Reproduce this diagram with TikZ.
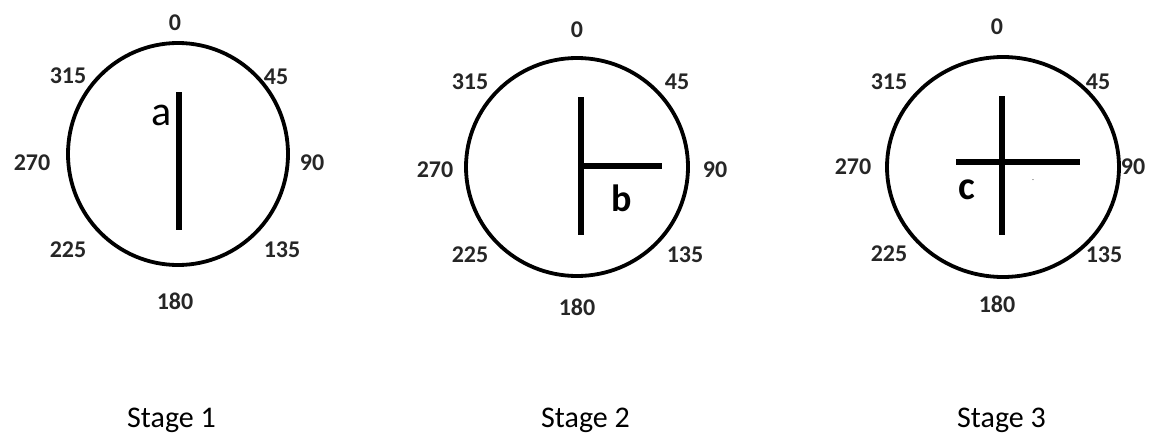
\documentclass[tikz,border=0pt]{standalone}
\usepackage{fontspec}
\setmainfont{Carlito}
\usetikzlibrary{shapes.geometric}
\begin{document}
\begin{tikzpicture}[x=1pt,y=-1pt,
  ring/.style={line width=3.8pt},
  bar/.style={line width=6.5pt},
  ang/.style={font=\fontsize{24}{28}\selectfont\bfseries, inner sep=0pt, text=black!85},
  letter/.style={font=\fontsize{42}{46}\selectfont, inner sep=0pt},
  stage/.style={font=\fontsize{30}{34}\selectfont, inner sep=0pt, anchor=base west}]
\useasboundingbox (0,0) rectangle (1154,434);
% Stage 1
\node[draw, ring, ellipse, minimum width=220pt, minimum height=222pt, inner sep=0pt] (c1) at (178,154) {};
\coordinate (a1) at (179,92);
\coordinate (a2) at (179,230);
\draw[bar] (a1) -- (a2);
\node[letter] (la) at (162,115) {a};
\node[ang] (c1n0) at (175,23) {0};
\node[ang] (c1n45) at (276,77) {45};
\node[ang] (c1n90) at (312,163) {90};
\node[ang] (c1n135) at (282,250) {135};
\node[ang] (c1n180) at (175,301) {180};
\node[ang] (c1n225) at (68,250) {225};
\node[ang] (c1n270) at (32,163) {270};
\node[ang] (c1n315) at (68,76) {315};
% Stage 2
\node[draw, ring, ellipse, minimum width=222pt, minimum height=218pt, inner sep=0pt] (c2) at (577,167) {};
\coordinate (b1) at (581,97);
\coordinate (b2) at (581,235);
\coordinate (b3) at (581,166);
\coordinate (b4) at (662,166);
\draw[bar] (b1) -- (b2);
\draw[bar] (b3) -- (b4);
\node[letter, font=\fontsize{38}{42}\selectfont\bfseries] (lb) at (622,198) {b};
\node[ang] (c2n0) at (577,30) {0};
\node[ang] (c2n45) at (677,82) {45};
\node[ang] (c2n90) at (715,170) {90};
\node[ang] (c2n135) at (685,255) {135};
\node[ang] (c2n180) at (577,307) {180};
\node[ang] (c2n225) at (470,255) {225};
\node[ang] (c2n270) at (435,170) {270};
\node[ang] (c2n315) at (470,82) {315};
% Stage 3
\node[draw, ring, ellipse, minimum width=232pt, minimum height=220pt, inner sep=0pt] (c3) at (1003,167) {};
\coordinate (d1) at (1002,96);
\coordinate (d2) at (1002,235);
\coordinate (d3) at (956,162);
\coordinate (d4) at (1080,162);
\draw[bar] (d1) -- (d2);
\draw[bar] (d3) -- (d4);
\node[letter, font=\fontsize{40}{44}\selectfont\bfseries] (lc) at (967,190) {c};
\node[font=\fontsize{8}{9}\selectfont, text=black!60, inner sep=0pt] (dash) at (1033,181) {-};
\node[ang] (c3n0) at (997,27) {0};
\node[ang] (c3n45) at (1098,82) {45};
\node[ang] (c3n90) at (1133,167) {90};
\node[ang] (c3n135) at (1104,255) {135};
\node[ang] (c3n180) at (997,304) {180};
\node[ang] (c3n225) at (889,254) {225};
\node[ang] (c3n270) at (853,167) {270};
\node[ang] (c3n315) at (889,82) {315};
% Stage captions
\node[stage] (s1) at (127,427) {Stage 1};
\node[stage] (s2) at (541,427) {Stage 2};
\node[stage] (s3) at (957,427) {Stage 3};
\end{tikzpicture}
\end{document}
